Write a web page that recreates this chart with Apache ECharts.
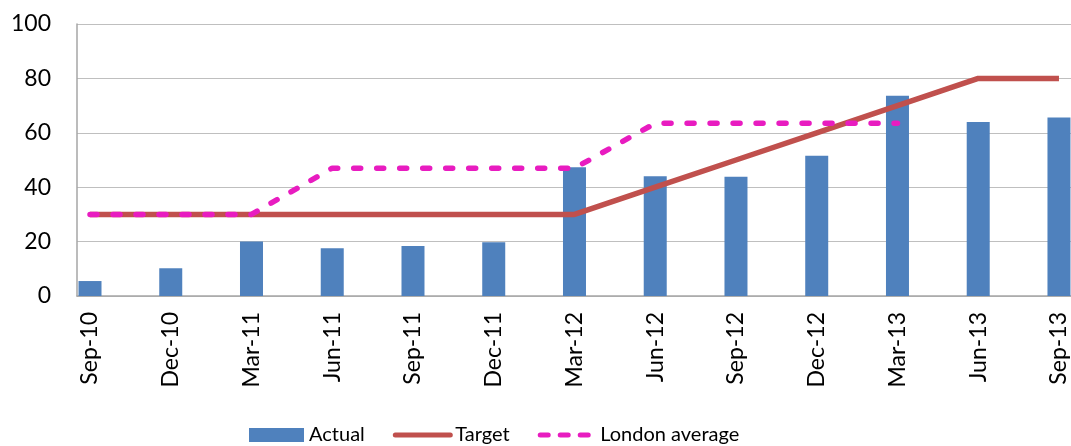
<!DOCTYPE html>
<html>
<head>
<meta charset="utf-8">
<script src="https://cdn.jsdelivr.net/npm/echarts@6/dist/echarts.min.js"></script>
<style>
    html, body { margin: 0; padding: 0; background: #fff; }
    #chart { width: 1071px; height: 446px; }
</style>
</head>
<body>
<div id="chart"></div>
<script>
    let categories = ['Sep-10', 'Dec-10', 'Mar-11', 'Jun-11', 'Sep-11', 'Dec-11', 'Mar-12',
                      'Jun-12', 'Sep-12', 'Dec-12', 'Mar-13', 'Jun-13', 'Sep-13']
    let actual = [5.5, 10.2, 20, 17.6, 18.4, 19.8, 47.3, 44, 43.8, 51.6, 73.6, 64, 65.6]
    let target = [30, 30, 30, 30, 30, 30, 30, 40, 50, 60, 70, 80, 80]
    let london = [30, 30, 30, 47, 47, 47, 47, 63.5, 63.5, 63.5, 63.5, null, null]
    let yTicks = [0, 20, 40, 60, 80, 100]

    let font = 'Lato'
    let red = '#c0504d'
    let pink = '#e81cc0'
    let toPoints = function (arr) {
        let out = []
        for (let i = 0; i < arr.length; i++) {
            out.push([i, arr[i]])
        }
        return out
    }
    let idx = []
    for (let i = 0; i < categories.length; i++) idx.push(i)

    let myChart = echarts.init(document.getElementById('chart'))
    const option = {
        animation: false,
        grid: { left: 77, right: 0, top: 24, bottom: 150 },
        legend: {
            left: 244,
            top: 420,
            itemWidth: 55,
            itemHeight: 14,
            itemGap: 28,
            textStyle: { fontFamily: font, fontSize: 20, color: '#000' },
            data: [
                { name: 'Actual', icon: 'rect' },
                { name: 'Target', itemStyle: { opacity: 0 },
                  lineStyle: { color: red, width: 5, cap: 'round' } },
                { name: 'London average', itemStyle: { opacity: 0 },
                  lineStyle: { color: pink, width: 5, type: [8, 12], cap: 'round' } }
            ]
        },
        xAxis: {
            type: 'value',
            min: -0.161,
            max: 12.149,
            axisLine: { show: true, onZero: false, lineStyle: { color: '#a6a6a6', width: 1.5 } },
            axisTick: { show: false },
            splitLine: { show: false },
            axisLabel: {
                customValues: idx,
                rotate: 90,
                margin: 16,
                fontFamily: font,
                fontSize: 23,
                color: '#000',
                formatter: function (v) { return categories[Math.round(v)] }
            }
        },
        yAxis: {
            type: 'value',
            min: 0,
            max: 100,
            interval: 20,
            axisLine: { show: true, onZero: false, lineStyle: { color: '#a6a6a6', width: 1.5 } },
            axisTick: { show: false },
            splitLine: { lineStyle: { color: '#bfbfbf', width: 1 } },
            axisLabel: {
                margin: 26,
                fontFamily: font,
                fontSize: 23,
                color: '#000',
                formatter: function (v) { return yTicks.indexOf(v) >= 0 ? String(v) : '' }
            }
        },
        series: [
            {
                name: 'Actual',
                type: 'bar',
                barWidth: 23,
                itemStyle: { color: '#4f81bd' },
                data: toPoints(actual)
            },
            {
                name: 'Target',
                type: 'line',
                symbol: 'none',
                lineStyle: { color: red, width: 5.5 },
                itemStyle: { color: red },
                data: toPoints(target)
            },
            {
                name: 'London average',
                type: 'line',
                symbol: 'none',
                lineStyle: { color: pink, width: 5.5, type: [7, 16], cap: 'round' },
                itemStyle: { color: pink },
                data: toPoints(london)
            }
        ]
    }
    myChart.setOption(option)
</script>
</body>
</html>
